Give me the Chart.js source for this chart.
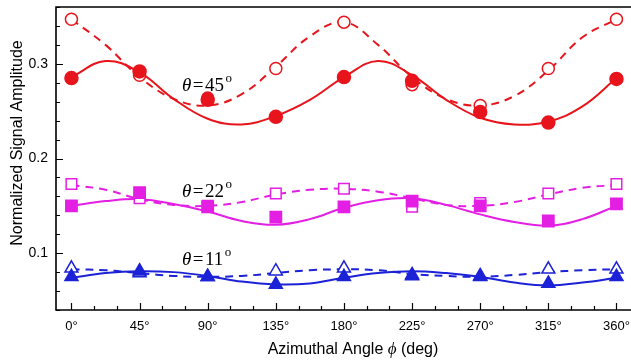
<!DOCTYPE html>
<html>
<head>
  <title>Normalized Signal Amplitude vs Azimuthal Angle</title>
  <script src="https://cdn.jsdelivr.net/npm/chart.js"></script>
  <style>
    body { margin: 0; background: #fff; }
  </style>
</head>
<body>
  <canvas id="myChart" width="631" height="362"></canvas>

  <script>
    // measured angles (deg) and fit sampling angles
    const angles = [0, 45, 90, 135, 180, 225, 270, 315, 360];
    const fitAngles = [0, 22.5, 45, 67.5, 90, 112.5, 135, 157.5, 180, 202.5, 225, 247.5, 270, 292.5, 315, 337.5, 360];
    const xTickLabels = ['0°', '45°', '90°', '135°', '180°', '225°', '270°', '315°', '360°'];
    const yTickValues = [0.1, 0.2, 0.3];

    // theta = 45
    const t45Filled = [0.285, 0.292, 0.262, 0.244, 0.286, 0.282, 0.249, 0.238, 0.284];
    const t45Open   = [0.347, 0.288, 0.264, 0.295, 0.344, 0.278, 0.256, 0.295, 0.347];
    const t45FitSolid  = [0.286, 0.303, 0.291, 0.263, 0.242, 0.236, 0.245, 0.262, 0.286, 0.303, 0.288, 0.262, 0.243, 0.236, 0.239, 0.255, 0.285];
    const t45FitDashed = [0.347, 0.320, 0.286, 0.263, 0.256, 0.268, 0.297, 0.329, 0.344, 0.320, 0.286, 0.263, 0.256, 0.266, 0.293, 0.328, 0.347];

    // theta = 22
    const t22Filled = [0.150, 0.164, 0.149, 0.138, 0.149, 0.155, 0.150, 0.134, 0.152];
    const t22Open   = [0.173, 0.158, 0.150, 0.163, 0.168, 0.149, 0.153, 0.163, 0.173];
    const t22FitSolid  = [0.150, 0.155, 0.157, 0.152, 0.144, 0.134, 0.130, 0.136, 0.148, 0.156, 0.158, 0.151, 0.141, 0.133, 0.129, 0.136, 0.150];
    const t22FitDashed = [0.172, 0.167, 0.157, 0.151, 0.150, 0.154, 0.162, 0.167, 0.168, 0.165, 0.158, 0.151, 0.150, 0.154, 0.162, 0.169, 0.172];

    // theta = 11
    const t11Filled = [0.075, 0.081, 0.075, 0.067, 0.075, 0.077, 0.076, 0.068, 0.075];
    const t11Open   = [0.084, 0.079, 0.075, 0.081, 0.084, 0.076, 0.075, 0.083, 0.083];
    const t11FitSolid  = [0.074, 0.079, 0.081, 0.080, 0.076, 0.070, 0.067, 0.068, 0.074, 0.079, 0.081, 0.079, 0.075, 0.069, 0.066, 0.069, 0.074];
    const t11FitDashed = [0.083, 0.082, 0.079, 0.076, 0.075, 0.076, 0.079, 0.082, 0.083, 0.082, 0.078, 0.076, 0.075, 0.077, 0.080, 0.082, 0.083];

    const RED = '#e8141c', MAG = '#e41fe4', BLUE = '#1c22d6';

    function pts(xs, ys) {
      return xs.map((x, i) => ({ x: x, y: ys[i] }));
    }

    function fitLine(ys, color, dashed) {
      return {
        data: pts(fitAngles, ys),
        showLine: true,
        borderColor: color,
        borderWidth: 2,
        borderDash: dashed ? [8, 6] : [],
        tension: 0.4,
        pointRadius: 0,
        order: 2
      };
    }

    function markers(ys, color, style, radius, open) {
      return {
        data: pts(angles, ys),
        showLine: false,
        pointStyle: style,
        pointRadius: radius,
        pointBorderWidth: 1.5,
        pointBorderColor: color,
        pointBackgroundColor: open ? '#fff' : color,
        order: open ? 1 : 0
      };
    }

    // inward ticks, frame, titles and theta labels
    const decor = {
      id: 'decor',
      afterDraw(chart) {
        const ctx = chart.ctx;
        const a = chart.chartArea;
        const xs = chart.scales.x, ys = chart.scales.y;
        ctx.save();
        ctx.strokeStyle = '#000';
        ctx.lineWidth = 1.2;
        ctx.beginPath();
        for (let d = 0; d <= 360; d += 15) {
          const px = Math.round(xs.getPixelForValue(d)) + 0.5;
          const len = d % 45 === 0 ? 7 : 4;
          ctx.moveTo(px, a.bottom); ctx.lineTo(px, a.bottom - len);
        }
        for (let v = 0.04; v <= 0.361; v += 0.02) {
          const py = Math.round(ys.getPixelForValue(v)) + 0.5;
          const major = Math.abs(v * 10 - Math.round(v * 10)) < 1e-6;
          ctx.moveTo(a.left, py); ctx.lineTo(a.left + (major ? 7 : 4), py);
        }
        ctx.stroke();

        ctx.lineWidth = 1.6;
        ctx.beginPath();
        ctx.moveTo(a.right + 2, a.top);
        ctx.lineTo(a.left, a.top);
        ctx.lineTo(a.left, a.bottom);
        ctx.lineTo(a.right + 2, a.bottom);
        ctx.stroke();

        // axis titles
        ctx.fillStyle = '#000';
        ctx.textBaseline = 'middle';
        const sans = '16px "Liberation Sans", Arial, sans-serif';
        const parts = [
          ['Azimuthal Angle ', sans],
          ['\u03d5', 'italic 17px "Liberation Serif", serif'],
          [' (deg)', sans]
        ];
        let total = 0;
        parts.forEach(p => { ctx.font = p[1]; total += ctx.measureText(p[0]).width; });
        let x = 353 - total / 2;
        ctx.textAlign = 'left';
        parts.forEach(p => { ctx.font = p[1]; ctx.fillText(p[0], x, 350); x += ctx.measureText(p[0]).width; });

        ctx.save();
        ctx.translate(18, 143);
        ctx.rotate(-Math.PI / 2);
        ctx.textAlign = 'center';
        ctx.font = sans;
        ctx.fillText('Normalized Signal Amplitude', 0, 0);
        ctx.restore();

        // theta labels
        ctx.textBaseline = 'alphabetic';
        [['45', 91], ['22', 197], ['11', 265]].forEach(([num, base]) => {
          let tx = 182;
          ctx.font = 'italic 19px "Liberation Serif", serif';
          ctx.fillText('\u03b8', tx, base);
          tx += ctx.measureText('\u03b8').width + 1.5;
          ctx.font = '19px "Liberation Serif", serif';
          ctx.fillText('=', tx, base);
          tx += ctx.measureText('=').width + 1.5;
          ctx.fillText(num, tx, base);
          tx += ctx.measureText(num).width + 1.5;
          ctx.font = '13px "Liberation Serif", serif';
          ctx.fillText('o', tx, base - 9);
        });
        ctx.restore();
      }
    };

    const ctx = document.getElementById('myChart').getContext('2d');
    const chart = new Chart(ctx, {
      type: 'scatter',
      data: {
        datasets: [
          fitLine(t45FitSolid, RED, false),
          fitLine(t45FitDashed, RED, true),
          fitLine(t22FitSolid, MAG, false),
          fitLine(t22FitDashed, MAG, true),
          fitLine(t11FitSolid, BLUE, false),
          fitLine(t11FitDashed, BLUE, true),
          markers(t45Open, RED, 'circle', 6, true),
          markers(t45Filled, RED, 'circle', 6.5, false),
          markers(t22Open, MAG, 'rect', 7.5, true),
          markers(t22Filled, MAG, 'rect', 8, false),
          markers(t11Open, BLUE, 'triangle', 7.5, true),
          markers(t11Filled, BLUE, 'triangle', 7.5, false)
        ]
      },
      options: {
        responsive: false,
        animation: false,
        layout: { autoPadding: false, padding: { top: 7, right: 0, left: 0, bottom: 0 } },
        plugins: { legend: { display: false }, tooltip: { enabled: false } },
        scales: {
          x: {
            type: 'linear',
            min: -10.2,
            max: 369.6,
            grid: { display: false, drawTicks: false },
            border: { display: false },
            afterBuildTicks: s => { s.ticks = angles.map(v => ({ value: v })); },
            afterFit: s => { s.height = 52; s.paddingLeft = 0; s.paddingRight = 0; },
            ticks: {
              padding: 9,
              color: '#000',
              maxRotation: 0,
              font: { family: '"Liberation Sans", Arial, sans-serif', size: 13 },
              callback: (v) => xTickLabels[angles.indexOf(v)]
            }
          },
          y: {
            min: 0.04,
            max: 0.36,
            grid: { display: false, drawTicks: false },
            border: { display: false },
            afterBuildTicks: s => { s.ticks = yTickValues.map(v => ({ value: v })); },
            afterFit: s => { s.width = 56; s.paddingTop = 0; s.paddingBottom = 0; },
            ticks: {
              padding: 8,
              color: '#000',
              font: { family: '"Liberation Sans", Arial, sans-serif', size: 14 },
              callback: v => v.toFixed(1)
            }
          }
        }
      },
      plugins: [decor]
    });
  </script>
</body>
</html>
